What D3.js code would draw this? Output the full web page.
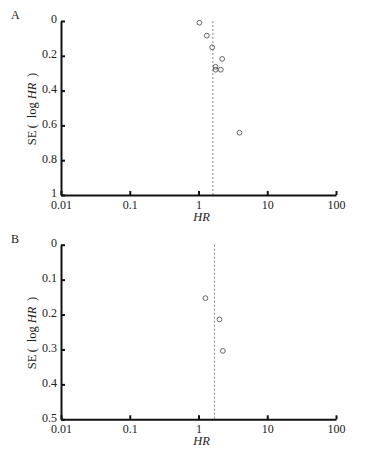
<!DOCTYPE html>
<html lang="en">
<head>
    <meta charset="UTF-8">
    <title>Funnel plots</title>
    <script src="https://d3js.org/d3.v7.min.js"></script>
    <style>
        body {
            margin: 0;
            background: #fff;
        }
        svg text {
            font-family: 'Liberation Serif', 'Times New Roman', serif;
            fill: #222;
        }
        .axis path, .axis line {
            stroke: #111;
        }
        .axis path {
            stroke-width: 2;
        }
        .axis text {
            font-size: 12px;
        }
    </style>
</head>
<body>
    <svg id="chart" width="365" height="460"></svg>

    <script>
        // x axis (hazard ratio, log scale)
        const hrTicks = [0.01, 0.1, 1, 10, 100];
        const hrTickLabels = ["0.01", "0.1", "1", "10", "100"];

        // panel A
        const hrA = [1.03, 1.32, 1.58, 2.21, 1.77, 1.77, 2.11, 3.95];
        const seA = [0.01, 0.084, 0.151, 0.218, 0.263, 0.28, 0.28, 0.642];
        const pooledA = 1.62;
        const seTicksA = [0, 0.2, 0.4, 0.6, 0.8, 1];
        const seTickLabelsA = ["0", "0.2", "0.4", "0.6", "0.8", "1"];

        // panel B
        const hrB = [1.26, 2.02, 2.26];
        const seB = [0.153, 0.214, 0.304];
        const pooledB = 1.71;
        const seTicksB = [0, 0.1, 0.2, 0.3, 0.4, 0.5];
        const seTickLabelsB = ["0", "0.1", "0.2", "0.3", "0.4", "0.5"];

        const svg = d3.select("#chart");
        const left = 61, right = 336;

        function drawPanel(letter, hr, se, pooled, seTicks, seLabels, top, bottom) {
            const x = d3.scaleLog().domain([0.01, 100]).range([left, right]);
            const y = d3.scaleLinear()
                .domain([0, seTicks[seTicks.length - 1]])
                .range([top, bottom]);

            const g = svg.append("g");

            // pooled estimate
            g.append("line")
                .attr("x1", x(pooled)).attr("x2", x(pooled))
                .attr("y1", y(y.domain()[0])).attr("y2", y(y.domain()[1]))
                .attr("stroke", "#888")
                .attr("stroke-width", 1)
                .attr("stroke-dasharray", "2,2");

            g.append("g")
                .attr("class", "axis")
                .attr("transform", `translate(0,${bottom})`)
                .call(d3.axisBottom(x)
                    .tickValues(hrTicks)
                    .tickFormat((d, i) => hrTickLabels[i])
                    .tickSizeInner(-4)
                    .tickSizeOuter(0)
                    .tickPadding(5))
                .call(a => a.selectAll("line").attr("stroke-width", 2));

            g.append("g")
                .attr("class", "axis")
                .attr("transform", `translate(${left},0)`)
                .call(d3.axisLeft(y)
                    .tickValues(seTicks)
                    .tickFormat((d, i) => seLabels[i])
                    .tickSizeInner(-4)
                    .tickSizeOuter(0)
                    .tickPadding(4))
                .call(a => a.selectAll("line").attr("stroke-width", 2))
                .call(a => a.selectAll("text").attr("dy", "0.15em"));

            g.selectAll("circle")
                .data(hr.map((h, i) => ({ hr: h, se: se[i] })))
                .join("circle")
                .attr("cx", d => x(d.hr))
                .attr("cy", d => y(d.se))
                .attr("r", 2.4)
                .attr("fill", "none")
                .attr("stroke", "#555")
                .attr("stroke-width", 0.9);

            // panel letter
            g.append("text")
                .attr("x", 11)
                .attr("y", top - 2)
                .attr("font-size", 12)
                .text(letter);

            // x title
            g.append("text")
                .attr("x", x(1) + 3)
                .attr("y", bottom + 26)
                .attr("text-anchor", "middle")
                .attr("font-size", 12.5)
                .attr("font-style", "italic")
                .text("HR");

            // y title
            const yt = g.append("text")
                .attr("transform", `translate(36,${(top + bottom) / 2 + 1}) rotate(-90)`)
                .attr("text-anchor", "middle")
                .attr("font-size", 12.5);
            yt.append("tspan").text("SE\u2009(\u2009 log ");
            yt.append("tspan").attr("font-style", "italic").text("HR");
            yt.append("tspan").text(" \u2009)");
        }

        drawPanel("A", hrA, seA, pooledA, seTicksA, seTickLabelsA, 21, 195);
        drawPanel("B", hrB, seB, pooledB, seTicksB, seTickLabelsB, 244.7, 419.3);
    </script>
</body>
</html>
